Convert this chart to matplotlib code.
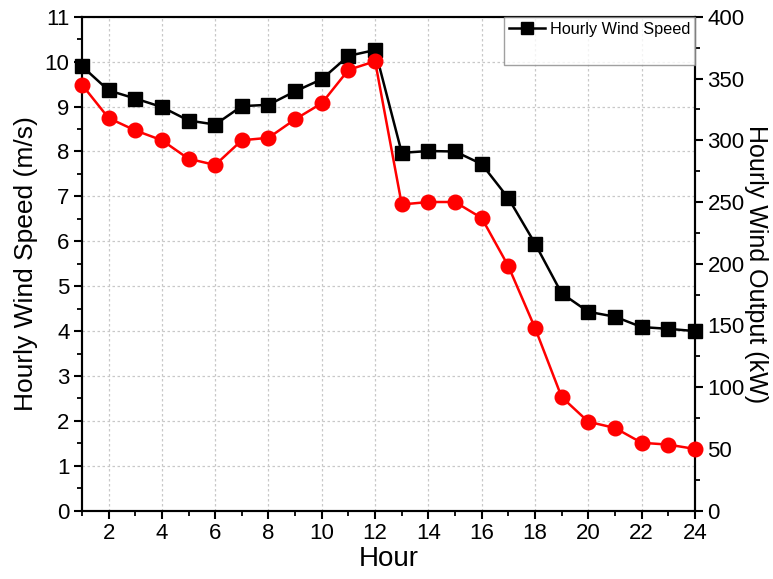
import matplotlib
matplotlib.use("Agg")
import matplotlib.pyplot as plt
from matplotlib.lines import Line2D
from matplotlib.ticker import MultipleLocator

plt.rcParams["font.family"] = ["Liberation Sans", "DejaVu Sans"]

hours = list(range(1, 25))
wind_speed = [9.90, 9.36, 9.18, 8.99, 8.69, 8.60, 9.01, 9.04, 9.34, 9.61, 10.13, 10.26,
              7.97, 8.01, 8.00, 7.72, 6.96, 5.95, 4.84, 4.43, 4.32, 4.09, 4.05, 4.00]
wind_output = [345, 318, 308, 300, 285, 280, 300, 302, 317, 330, 357, 364,
               248, 250, 250, 237, 198, 148, 92, 72, 67, 55, 53.5, 50]

fig, ax = plt.subplots(figsize=(7.73, 5.79), dpi=100)
fig.subplots_adjust(left=0.106, right=0.899, top=0.971, bottom=0.118)
ax2 = ax.twinx()

grid_kw = dict(color="#c8c8c8", linestyle=(0, (2, 2)), linewidth=0.9)
ax.grid(True, which="major", **grid_kw)
ax.set_axisbelow(True)

ax.plot(hours, wind_speed, color="black", marker="s", markersize=9.5,
        linewidth=1.8, zorder=3, clip_on=False)
ax2.plot(hours, wind_output, color="#ff0000", marker="o", markersize=10.5,
         linewidth=1.8, zorder=3, clip_on=False)

ax.set_xlim(1, 24)
ax.set_ylim(0, 11)
ax2.set_ylim(0, 400)

ax.xaxis.set_major_locator(MultipleLocator(2))
ax.xaxis.set_minor_locator(MultipleLocator(1))
ax.yaxis.set_major_locator(MultipleLocator(1))
ax.yaxis.set_minor_locator(MultipleLocator(0.5))
ax2.yaxis.set_major_locator(MultipleLocator(50))
ax2.yaxis.set_minor_locator(MultipleLocator(25))

for a in (ax, ax2):
    a.tick_params(which="major", direction="out", length=6, width=1.5,
                  labelsize=16, colors="black", pad=3)
    a.tick_params(which="minor", direction="out", length=3.5, width=1.3)
    for sp in a.spines.values():
        sp.set_linewidth(1.5)

ax.set_xlabel("Hour", fontsize=20, labelpad=1)
ax.set_ylabel("Hourly Wind Speed (m/s)", fontsize=19, labelpad=5)
ax2.set_ylabel("Hourly Wind Output (kW)", fontsize=18, rotation=270, labelpad=17)

handles = [Line2D([], [], color="black", marker="s", markersize=9, linewidth=1.8),
           Line2D([], [], color="none")]
leg = ax2.legend(handles, ["Hourly Wind Speed", " "], loc="upper right",
                 fontsize=11.7, frameon=True, fancybox=False, borderaxespad=0,
                 handlelength=2.2, handletextpad=0.3, borderpad=0.3)
leg.get_frame().set_edgecolor("#888888")
leg.get_frame().set_linewidth(1.0)

fig.savefig("out.png", dpi=100)
